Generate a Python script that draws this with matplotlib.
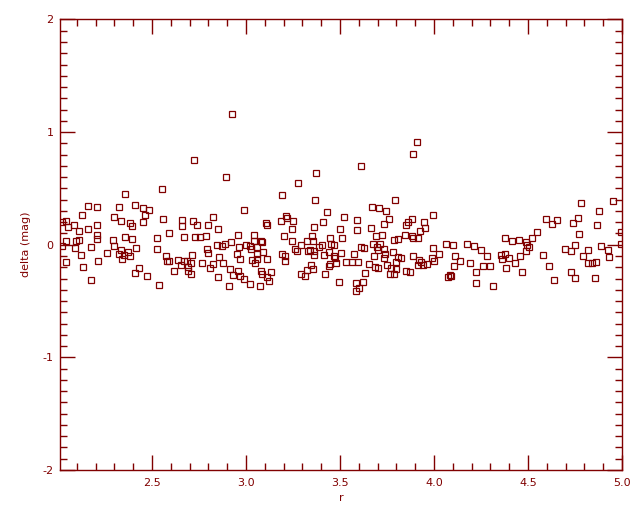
import numpy as np
import matplotlib.pyplot as plt
from matplotlib.ticker import MultipleLocator, FormatStrFormatter

plt.rcParams['axes.unicode_minus'] = False

red = '#800000'

# values, roughly left to right
r = [2.358, 2.161, 2.209, 2.326, 2.411, 2.454, 2.484, 2.129, 2.464, 2.299,
     2.337, 2.383, 2.395, 2.454, 2.043, 2.023, 2.085, 2.055, 2.209, 2.113,
     2.161, 2.209, 2.206, 2.358, 2.395, 2.294, 2.044, 2.097, 2.112, 2.023,
     2.092, 2.177, 2.299, 2.416, 2.337, 2.374, 2.262, 2.326, 2.353, 2.342,
     2.385, 2.124, 2.044, 2.214, 2.135, 2.432, 2.411, 2.475, 2.177,
     2.895, 2.555, 2.725, 2.991, 2.560, 2.661, 2.661, 2.720, 2.741, 2.799,
     2.826, 2.853, 2.592, 2.528, 2.672, 2.730, 2.757, 2.789, 2.959, 2.528,
     2.847, 2.874, 2.890, 2.922, 2.964, 3.002, 2.794, 2.799, 2.954, 2.576,
     2.714, 2.858, 2.970, 2.640, 2.581, 2.592, 2.672, 2.688, 2.709, 2.656,
     2.768, 2.826, 2.879, 2.810, 2.693, 2.693, 2.619, 2.709, 2.916, 2.959,
     2.932, 2.970, 2.991, 2.853, 2.911, 2.539, 2.927,
     3.374, 3.278, 3.193, 3.369, 3.432, 3.214, 3.220, 3.188, 3.252, 3.108,
     3.113, 3.411, 3.363, 3.246, 3.502, 3.044, 3.204, 3.353, 3.448, 3.512,
     3.044, 3.081, 3.087, 3.246, 3.326, 3.358, 3.294, 3.406, 3.454, 3.470,
     3.023, 3.060, 3.028, 3.262, 3.273, 3.342, 3.390, 3.331, 3.363, 3.443,
     3.507, 3.092, 3.060, 3.193, 3.209, 3.363, 3.416, 3.470, 3.475, 3.034,
     3.060, 3.049, 3.113, 3.209, 3.448, 3.443, 3.480, 3.347, 3.358, 3.326,
     3.294, 3.315, 3.081, 3.087, 3.135, 3.113, 3.124, 3.422, 3.496, 3.023,
     3.076,
     3.613, 3.911, 3.890, 3.794, 3.672, 3.709, 3.746, 3.996, 3.523, 3.592,
     3.762, 3.736, 3.863, 3.885, 3.853, 3.948, 3.954, 3.927, 3.592, 3.666,
     3.693, 3.725, 3.847, 3.885, 3.890, 3.916, 3.789, 3.810, 3.677, 3.714,
     3.613, 3.629, 3.698, 3.736, 3.996, 4.028, 3.784, 3.576, 3.741, 3.704,
     3.682, 3.890, 3.810, 3.826, 3.736, 3.534, 3.565, 3.597, 3.799, 3.922,
     3.932, 3.991, 4.002, 3.656, 3.752, 3.916, 3.943, 3.964, 3.688, 3.704,
     3.773, 3.799, 3.853, 3.874, 3.635, 3.768, 3.789, 3.624, 3.587, 3.603,
     3.587,
     4.065, 4.103, 4.177, 4.214, 4.252, 4.284, 4.113, 4.140, 4.108, 4.193,
     4.225, 4.262, 4.299, 4.076, 4.087, 4.092, 4.225, 4.315, 4.379, 4.416,
     4.454, 4.491, 4.523, 4.549, 4.496, 4.507, 4.491, 4.358, 4.379, 4.363,
     4.401, 4.459, 4.432, 4.385, 4.470,
     4.784, 4.954, 4.879, 4.597, 4.656, 4.629, 4.768, 4.741, 4.869, 4.773,
     4.996, 4.996, 4.752, 4.698, 4.730, 4.821, 4.890, 4.927, 4.933, 4.794,
     4.581, 4.821, 4.842, 4.863, 4.613, 4.730, 4.752, 4.640, 4.858]

delta = [0.450, 0.346, 0.335, 0.337, 0.353, 0.326, 0.308, 0.266, 0.264, 0.246,
         0.210, 0.193, 0.166, 0.202, 0.207, 0.204, 0.175, 0.157, 0.175, 0.122,
         0.139, 0.083, 0.051, 0.068, 0.051, 0.042, 0.033, 0.033, 0.042, -0.012,
         -0.029, -0.020, -0.012, -0.029, -0.047, -0.062, -0.074, -0.083, -0.091, -0.127,
         -0.100, -0.091, -0.154, -0.145, -0.198, -0.207, -0.251, -0.278, -0.313,
         0.601, 0.495, 0.752, 0.308, 0.228, 0.219, 0.166, 0.210, 0.175, 0.175,
         0.246, 0.139, 0.104, 0.060, 0.068, 0.068, 0.068, 0.077, 0.086, -0.038,
         -0.003, -0.012, 0.006, 0.024, -0.020, -0.003, -0.038, -0.074, -0.083, -0.100,
         -0.091, -0.109, -0.127, -0.136, -0.145, -0.145, -0.145, -0.145, -0.163, -0.180,
         -0.163, -0.171, -0.163, -0.207, -0.198, -0.234, -0.234, -0.260, -0.216, -0.234,
         -0.269, -0.278, -0.305, -0.287, -0.367, -0.358, 1.161,
         0.637, 0.548, 0.441, 0.397, 0.290, 0.255, 0.237, 0.210, 0.210, 0.193,
         0.175, 0.202, 0.157, 0.139, 0.139, 0.086, 0.077, 0.077, 0.060, 0.060,
         0.033, 0.033, 0.024, 0.033, 0.033, 0.033, -0.003, -0.003, 0.006, -0.003,
         -0.012, -0.020, -0.038, -0.038, -0.056, -0.047, -0.020, -0.056, -0.056, -0.065,
         -0.074, -0.065, -0.083, -0.083, -0.100, -0.091, -0.091, -0.100, -0.118, -0.136,
         -0.127, -0.163, -0.127, -0.145, -0.171, -0.189, -0.163, -0.180, -0.216, -0.225,
         -0.260, -0.278, -0.234, -0.260, -0.242, -0.287, -0.322, -0.260, -0.331, -0.349,
         -0.367,
         0.699, 0.912, 0.805, 0.397, 0.335, 0.326, 0.299, 0.264, 0.246, 0.219,
         0.228, 0.184, 0.202, 0.228, 0.175, 0.202, 0.148, 0.122, 0.131, 0.148,
         0.077, 0.086, 0.086, 0.077, 0.060, 0.060, 0.042, 0.051, 0.006, 0.006,
         -0.020, -0.029, -0.020, -0.038, -0.029, -0.083, -0.065, -0.083, -0.083, -0.047,
         -0.100, -0.100, -0.109, -0.118, -0.118, -0.154, -0.154, -0.154, -0.154, -0.136,
         -0.154, -0.118, -0.145, -0.171, -0.180, -0.180, -0.180, -0.171, -0.198, -0.207,
         -0.207, -0.216, -0.234, -0.242, -0.251, -0.260, -0.260, -0.331, -0.340, -0.385,
         -0.411,
         0.006, -0.003, 0.006, -0.012, -0.047, -0.100, -0.100, -0.145, -0.189, -0.163,
         -0.242, -0.189, -0.189, -0.287, -0.269, -0.278, -0.340, -0.367, 0.060, 0.033,
         0.042, 0.024, 0.060, 0.113, -0.003, -0.020, -0.056, -0.091, -0.083, -0.127,
         -0.118, -0.100, -0.163, -0.207, -0.242,
         0.370, 0.388, 0.299, 0.228, 0.219, 0.184, 0.237, 0.193, 0.175, 0.095,
         0.113, 0.006, -0.003, -0.038, -0.056, -0.047, -0.012, -0.047, -0.109, -0.100,
         -0.091, -0.163, -0.163, -0.154, -0.189, -0.242, -0.296, -0.313, -0.296]

fig = plt.figure(figsize=(6.4, 5.12), dpi=100)
ax = fig.add_axes([0.0942, 0.082, 0.8777, 0.880])

ax.plot(r, delta, 's', ms=4.6, mfc='none', mec=red, mew=0.9, ls='none', clip_on=True)

ax.set_xlim(2.012, 5.0)
ax.set_ylim(-2, 2)

ax.xaxis.set_major_locator(MultipleLocator(0.5))
ax.xaxis.set_minor_locator(MultipleLocator(0.1))
ax.xaxis.set_major_formatter(FormatStrFormatter('%.1f'))
ax.yaxis.set_major_locator(MultipleLocator(1))
ax.yaxis.set_minor_locator(MultipleLocator(0.1))

ax.tick_params(which='both', direction='in', top=True, right=True, color=red,
               labelcolor=red, labelsize=8, width=1)
ax.tick_params(which='major', length=11)
ax.tick_params(which='minor', length=5)
ax.tick_params(axis='x', pad=6)
ax.tick_params(axis='y', pad=5)

for s in ax.spines.values():
    s.set_color(red)
    s.set_linewidth(1)

ax.set_xlabel('r', color=red, fontsize=8)
ax.set_ylabel('delta (mag)', color=red, fontsize=8)
ax.xaxis.set_label_coords(0.5, -0.052)
ax.yaxis.set_label_coords(-0.052, 0.5)

fig.savefig('out.png', dpi=100)
